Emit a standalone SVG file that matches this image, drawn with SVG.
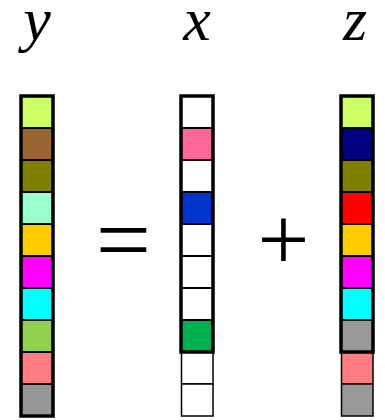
<svg xmlns="http://www.w3.org/2000/svg" width="385" height="420" viewBox="0 0 385 420">
<style>
.lbl{font-family:"Liberation Serif","Times New Roman",serif;font-style:italic;font-size:62px;fill:#000;text-anchor:middle}
.op{font-family:"Liberation Serif","Times New Roman",serif;fill:#000;text-anchor:middle}
.c{stroke:#000;stroke-width:2}
.t{stroke:#000;stroke-width:1.5}
.frame{fill:none;stroke:#000;stroke-width:3.5}
</style>
<rect width="385" height="420" fill="#fff"/>
<g id="label-y"><text class="lbl" x="37" y="40">y</text></g>
<g id="label-x"><text class="lbl" x="197" y="40">x</text></g>
<g id="label-z"><text class="lbl" x="355" y="40">z</text></g>
<g id="op-eq"><text class="op" x="123.5" y="272" font-size="98">=</text></g>
<g id="op-plus"><text class="op" x="283.5" y="270" font-size="92">+</text></g>
<g id="col-y">
<rect class="c" x="21" y="96" width="32" height="32" fill="#CCFF66"/>
<rect class="c" x="21" y="128" width="32" height="32" fill="#996633"/>
<rect class="c" x="21" y="160" width="32" height="32" fill="#808000"/>
<rect class="c" x="21" y="192" width="32" height="32" fill="#99FFCC"/>
<rect class="c" x="21" y="224" width="32" height="32" fill="#FFCC00"/>
<rect class="c" x="21" y="256" width="32" height="32" fill="#FF00FF"/>
<rect class="c" x="21" y="288" width="32" height="32" fill="#00FFFF"/>
<rect class="c" x="21" y="320" width="32" height="32" fill="#92D050"/>
<rect class="c" x="21" y="352" width="32" height="32" fill="#FF7C80"/>
<rect class="c" x="21" y="384" width="32" height="32" fill="#969696"/>
<rect class="frame" x="21" y="96" width="32" height="320"/>
</g>
<g id="col-x">
<rect class="c" x="181" y="96" width="32" height="32" fill="#FFFFFF"/>
<rect class="c" x="181" y="128" width="32" height="32" fill="#FF6699"/>
<rect class="c" x="181" y="160" width="32" height="32" fill="#FFFFFF"/>
<rect class="c" x="181" y="192" width="32" height="32" fill="#0033CC"/>
<rect class="c" x="181" y="224" width="32" height="32" fill="#FFFFFF"/>
<rect class="c" x="181" y="256" width="32" height="32" fill="#FFFFFF"/>
<rect class="c" x="181" y="288" width="32" height="32" fill="#FFFFFF"/>
<rect class="c" x="181" y="320" width="32" height="32" fill="#00B050"/>
<rect class="t" x="181.5" y="352" width="31.5" height="32" fill="#FFFFFF"/>
<rect class="t" x="181.5" y="384" width="31.5" height="32" fill="#FFFFFF"/>
<rect class="frame" x="181" y="96" width="32" height="256"/>
</g>
<g id="col-z">
<rect class="c" x="341" y="96" width="32" height="32" fill="#CCFF66"/>
<rect class="c" x="341" y="128" width="32" height="32" fill="#000080"/>
<rect class="c" x="341" y="160" width="32" height="32" fill="#808000"/>
<rect class="c" x="341" y="192" width="32" height="32" fill="#FF0000"/>
<rect class="c" x="341" y="224" width="32" height="32" fill="#FFCC00"/>
<rect class="c" x="341" y="256" width="32" height="32" fill="#FF00FF"/>
<rect class="c" x="341" y="288" width="32" height="32" fill="#00FFFF"/>
<rect class="c" x="341" y="320" width="32" height="32" fill="#999999"/>
<rect class="t" x="341.5" y="352" width="31.5" height="32" fill="#FF7C80"/>
<rect class="t" x="341.5" y="384" width="31.5" height="32" fill="#999999"/>
<rect class="frame" x="341" y="96" width="32" height="256"/>
</g>
<g id="connectors"></g>
</svg>
